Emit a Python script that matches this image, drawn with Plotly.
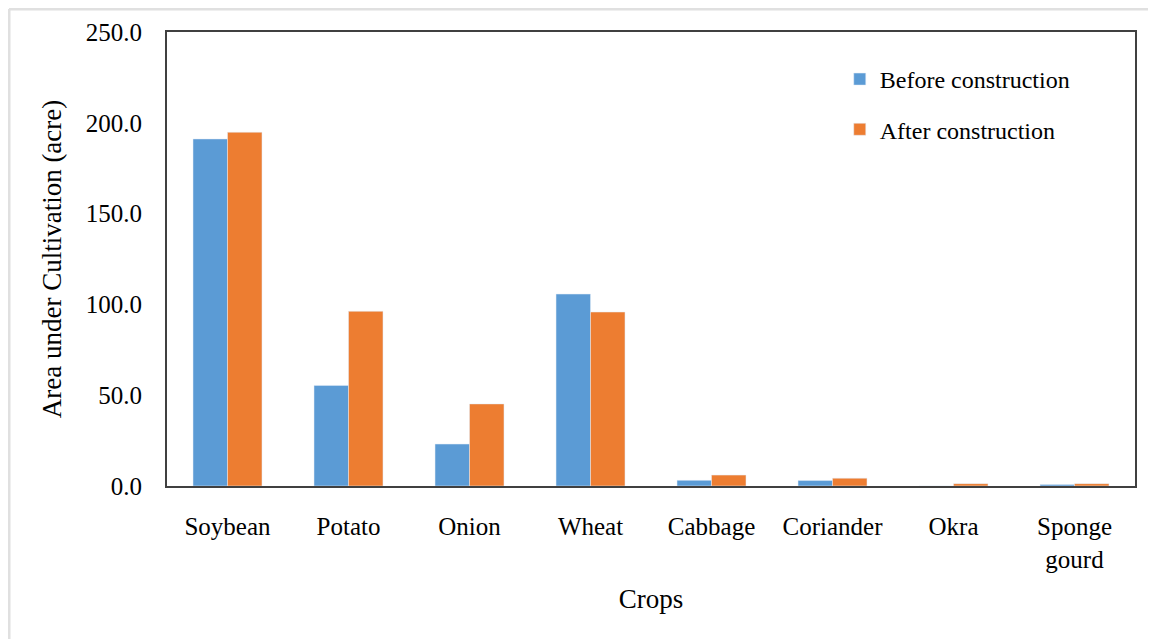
import plotly.graph_objects as go

crops = ["Soybean", "Potato", "Onion", "Wheat", "Cabbage", "Coriander", "Okra", "Sponge<br>gourd"]
before = [191.1, 55.4, 23.1, 105.7, 3.1, 3.0, 0.0, 0.8]
after = [194.8, 96.2, 45.2, 95.8, 6.0, 4.3, 1.3, 1.3]

COR_ANTES = "#5B9BD5"
COR_DEPOIS = "#ED7D31"
FONTE = "Liberation Serif, Times New Roman, serif"

fig = go.Figure()
fig.add_trace(go.Bar(x=crops, y=before, name="Before construction",
                     marker=dict(color=COR_ANTES), legendgroup="a"))
fig.add_trace(go.Bar(x=crops, y=after, name="After construction",
                     marker=dict(color=COR_DEPOIS), legendgroup="b"))

fig.update_layout(
    width=1156, height=639,
    margin=dict(l=159, r=29, t=24, b=161),
    plot_bgcolor="white", paper_bgcolor="white",
    font=dict(family=FONTE, size=25, color="black"),
    barmode="group", bargap=0.43, bargroupgap=0,
    legend=dict(x=0.695, y=0.945, xanchor="left", yanchor="top",
                font=dict(size=24), tracegroupgap=16, bgcolor="rgba(0,0,0,0)",
                itemwidth=30),
    showlegend=True,
)
fig.update_xaxes(
    title=dict(text="Crops", font=dict(size=27), standoff=18),
    showline=True, linecolor="#404040", linewidth=2, mirror=True,
    ticks="", ticklabelstandoff=17, automargin=False,
)
fig.update_yaxes(
    title=dict(text="Area under Cultivation (acre)", font=dict(size=27), standoff=16),
    range=[0, 250], dtick=50, tickformat=".1f",
    showgrid=False, zeroline=False,
    showline=True, linecolor="#404040", linewidth=2, mirror=True,
    ticks="", ticklabelstandoff=18, automargin=False,
)
# moldura cinza clara (só topo e esquerda)
fig.add_shape(type="line", xref="paper", yref="paper",
              x0=-0.1632, x1=-0.1632, y0=-0.4, y1=1.0507,
              line=dict(color="#e0e0e0", width=3))
fig.add_shape(type="line", xref="paper", yref="paper",
              x0=-0.1632, x1=1.04, y0=1.0507, y1=1.0507,
              line=dict(color="#e0e0e0", width=3))

fig.write_html("out.html")
